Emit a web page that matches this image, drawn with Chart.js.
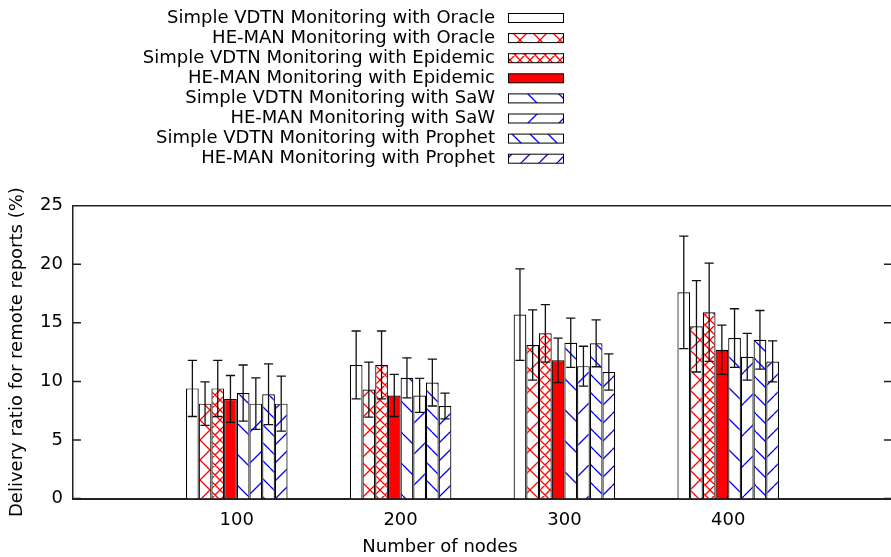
<!DOCTYPE html>
<html>
<head>
<meta charset="utf-8">
<script src="https://cdn.jsdelivr.net/npm/chart.js@4/dist/chart.umd.min.js"></script>
<style>
  html, body { margin: 0; padding: 0; background: #fff; overflow: hidden; }
  canvas { display: block; }
</style>
</head>
<body>
<canvas id="chart" width="893" height="557"></canvas>
<script>
// number of nodes on the x axis
const nodes = [100, 200, 300, 400];
const yTicks = [0, 5, 10, 15, 20, 25];

const seriesNames = [
    'Simple VDTN Monitoring with Oracle',
    'HE-MAN Monitoring with Oracle',
    'Simple VDTN Monitoring with Epidemic',
    'HE-MAN Monitoring with Epidemic',
    'Simple VDTN Monitoring with SaW',
    'HE-MAN Monitoring with SaW',
    'Simple VDTN Monitoring with Prophet',
    'HE-MAN Monitoring with Prophet'
];

// delivery ratio (%) and error (+/-)
const simpleOracle     = [9.4, 11.4, 15.7, 17.6];
const simpleOracleErr  = [2.4, 2.9, 3.9, 4.8];
const hemanOracle      = [8.1, 9.3, 13.1, 14.7];
const hemanOracleErr   = [1.85, 2.35, 3.0, 3.9];
const simpleEpidemic   = [9.4, 11.4, 14.1, 15.9];
const simpleEpidemicErr= [2.4, 2.9, 2.45, 4.2];
const hemanEpidemic    = [8.5, 8.8, 11.8, 12.7];
const hemanEpidemicErr = [2.0, 1.8, 1.9, 2.1];
const simpleSaw        = [9.0, 10.3, 13.3, 13.7];
const simpleSawErr     = [2.4, 1.7, 2.1, 2.5];
const hemanSaw         = [8.1, 8.8, 11.3, 12.1];
const hemanSawErr      = [2.2, 1.45, 1.7, 2.0];
const simpleProphet    = [8.9, 9.9, 13.25, 13.55];
const simpleProphetErr = [2.6, 2.0, 2.0, 2.5];
const hemanProphet     = [8.1, 7.9, 10.8, 11.7];
const hemanProphetErr  = [2.35, 1.1, 1.55, 1.75];

const values = [simpleOracle, hemanOracle, simpleEpidemic, hemanEpidemic, simpleSaw, hemanSaw, simpleProphet, hemanProphet];
const errors = [simpleOracleErr, hemanOracleErr, simpleEpidemicErr, hemanEpidemicErr, simpleSawErr, hemanSawErr, simpleProphetErr, hemanProphetErr];

const FONT = '"DejaVu Sans", sans-serif';
const canvas = document.getElementById('chart');
const ctx = canvas.getContext('2d');

// gnuplot-like hatch fill
function hatch(color, period, dirs) {
    const c = document.createElement('canvas');
    c.width = c.height = period;
    const g = c.getContext('2d');
    g.fillStyle = '#fff';
    g.fillRect(0, 0, period, period);
    g.strokeStyle = color;
    g.lineWidth = 1.3;
    g.beginPath();
    for (const k of [-1, 0, 1]) {
        if (dirs.includes('/')) { g.moveTo(k * period, period); g.lineTo(k * period + period, 0); }
        if (dirs.includes('\\')) { g.moveTo(k * period, 0); g.lineTo(k * period + period, period); }
    }
    g.stroke();
    return ctx.createPattern(c, 'repeat');
}

const fills = [
    '#ffffff',
    hatch('#ff0000', 20, '/\\'),
    hatch('#ff0000', 10, '/\\'),
    '#ff0000',
    hatch('#0000ff', 31, '\\'),
    hatch('#0000ff', 31, '/'),
    hatch('#0000ff', 18, '\\'),
    hatch('#0000ff', 18, '/')
];

const datasets = seriesNames.map((name, i) => ({
    label: name,
    data: nodes.map((n, j) => ({ x: n, y: values[i][j] })),
    backgroundColor: fills[i],
    borderColor: '#000',
    borderWidth: 1.2,
    barPercentage: 1,
    categoryPercentage: 0.62
}));

const gnuplotDecor = {
    id: 'gnuplotDecor',
    afterDatasetsDraw(chart) {
        const c = chart.ctx;
        const y = chart.scales.y;
        c.save();
        c.strokeStyle = '#111';
        c.lineWidth = 1.3;
        chart.data.datasets.forEach((ds, i) => {
            const meta = chart.getDatasetMeta(i);
            meta.data.forEach((bar, j) => {
                const v = values[i][j], e = errors[i][j];
                const top = y.getPixelForValue(v + e), bot = y.getPixelForValue(v - e);
                c.beginPath();
                c.moveTo(bar.x, top); c.lineTo(bar.x, bot);
                c.moveTo(bar.x - 4.6, top); c.lineTo(bar.x + 4.6, top);
                c.moveTo(bar.x - 4.6, bot); c.lineTo(bar.x + 4.6, bot);
                c.stroke();
            });
        });
        c.restore();
    },
    afterDraw(chart) {
        const c = chart.ctx;
        const a = chart.chartArea;
        const y = chart.scales.y;
        c.save();
        // frame top + inward ticks
        c.strokeStyle = '#222';
        c.lineWidth = 1.5;
        c.beginPath();
        c.moveTo(a.left, a.top); c.lineTo(a.right, a.top);
        yTicks.forEach(t => {
            const py = y.getPixelForValue(t);
            c.moveTo(a.left, py); c.lineTo(a.left + 8, py);
            c.moveTo(a.right, py); c.lineTo(a.right - 8, py);
        });
        c.stroke();

        // x axis title
        c.fillStyle = '#000';
        c.font = '18px ' + FONT;
        c.textAlign = 'center';
        c.textBaseline = 'alphabetic';
        c.fillText('Number of nodes', 440, 552);

        // legend, text right aligned with sample boxes
        c.textAlign = 'right';
        c.textBaseline = 'middle';
        chart.data.datasets.forEach((ds, i) => {
            const ry = 18 + i * 20.1;
            c.fillStyle = '#000';
            c.fillText(ds.label, 495, ry);
            c.fillStyle = ds.backgroundColor;
            c.fillRect(508, ry - 4.5, 55, 9);
            c.strokeStyle = '#000';
            c.lineWidth = 1;
            c.strokeRect(508.5, ry - 4.5, 55, 9);
        });
        c.restore();
    }
};

new Chart(ctx, {
    type: 'bar',
    data: { datasets },
    options: {
        responsive: false,
        animation: false,
        layout: { padding: { top: 205.7, right: 1, left: 0, bottom: 0 } },
        plugins: { legend: { display: false }, tooltip: { enabled: false } },
        scales: {
            x: {
                type: 'linear',
                min: 0,
                max: 500,
                offset: false,
                grid: { display: false, drawTicks: false, offset: false },
                border: { display: true, color: '#222', width: 2 },
                ticks: { stepSize: 100, padding: 11, color: '#000', font: { family: FONT, size: 18 } },
                afterBuildTicks(scale) { scale.ticks = scale.ticks.filter(t => nodes.includes(t.value)); },
                afterFit(scale) { scale.height = 58.5; }
            },
            y: {
                min: 0,
                max: 25,
                grid: { display: false, drawTicks: false },
                border: { display: true, color: '#222', width: 1.5 },
                ticks: { stepSize: 5, padding: 10, color: '#000', font: { family: FONT, size: 18 } },
                title: {
                    display: true,
                    text: 'Delivery ratio for remote reports (%)',
                    color: '#000',
                    font: { family: FONT, size: 18 },
                    padding: { top: 6.5, bottom: 0 }
                },
                afterFit(scale) { scale.width = 73; }
            }
        }
    },
    plugins: [gnuplotDecor]
});
</script>
</body>
</html>
